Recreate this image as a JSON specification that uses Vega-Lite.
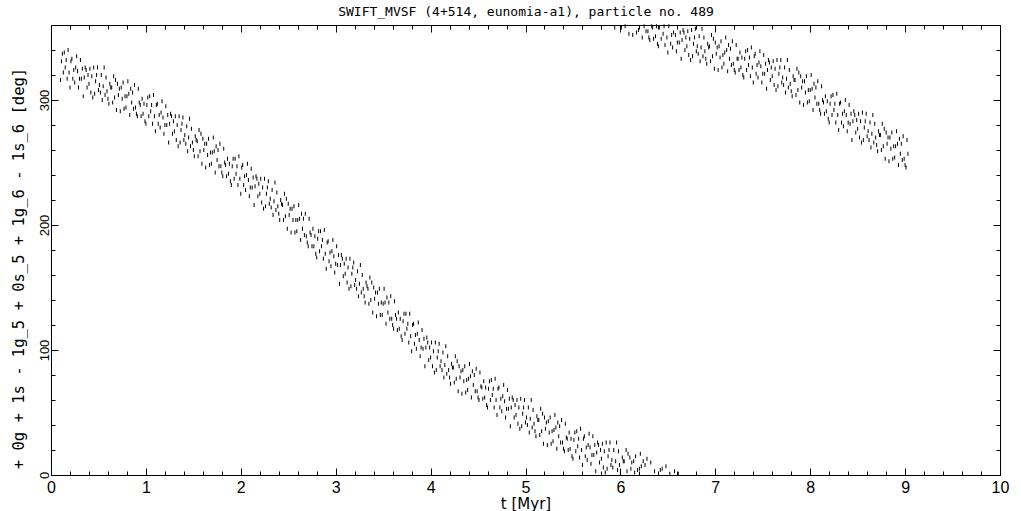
{
"$schema": "https://vega.github.io/schema/vega-lite/v6.json",
"width": 949, "height": 450,
"autosize": {"type": "none"},
"padding": {"left": 51, "top": 25, "right": 21, "bottom": 36},
"background": "white",
"data": {"values": [
{"t":0.10,"v":316},{"t":0.11,"v":331},{"t":0.12,"v":337},
{"t":0.13,"v":322},{"t":0.14,"v":338},{"t":0.15,"v":326},
{"t":0.16,"v":332},{"t":0.17,"v":317},{"t":0.18,"v":340},
{"t":0.19,"v":322},{"t":0.20,"v":310},{"t":0.21,"v":331},
{"t":0.22,"v":333},{"t":0.23,"v":317},{"t":0.24,"v":324},
{"t":0.25,"v":314},{"t":0.26,"v":326},{"t":0.27,"v":335},
{"t":0.28,"v":323},{"t":0.29,"v":310},{"t":0.30,"v":317},
{"t":0.31,"v":332},{"t":0.32,"v":317},{"t":0.33,"v":325},
{"t":0.34,"v":303},{"t":0.35,"v":318},{"t":0.36,"v":326},
{"t":0.37,"v":324},{"t":0.38,"v":310},{"t":0.39,"v":320},
{"t":0.40,"v":313},{"t":0.41,"v":325},{"t":0.42,"v":306},
{"t":0.43,"v":319},{"t":0.44,"v":302},{"t":0.45,"v":326},
{"t":0.46,"v":305},{"t":0.47,"v":315},{"t":0.48,"v":320},
{"t":0.49,"v":326},{"t":0.50,"v":308},{"t":0.51,"v":312},
{"t":0.52,"v":306},{"t":0.53,"v":320},{"t":0.54,"v":300},
{"t":0.55,"v":311},{"t":0.56,"v":326},{"t":0.57,"v":304},
{"t":0.58,"v":318},{"t":0.59,"v":307},{"t":0.60,"v":301},
{"t":0.61,"v":297},{"t":0.62,"v":313},{"t":0.63,"v":310},
{"t":0.64,"v":310},{"t":0.65,"v":298},{"t":0.66,"v":319},
{"t":0.67,"v":302},{"t":0.68,"v":316},{"t":0.69,"v":292},
{"t":0.70,"v":313},{"t":0.71,"v":304},{"t":0.72,"v":309},
{"t":0.73,"v":291},{"t":0.74,"v":310},{"t":0.75,"v":301},
{"t":0.76,"v":314},{"t":0.77,"v":293},{"t":0.78,"v":303},
{"t":0.79,"v":294},{"t":0.80,"v":303},{"t":0.81,"v":315},
{"t":0.82,"v":305},{"t":0.83,"v":288},{"t":0.84,"v":309},
{"t":0.85,"v":298},{"t":0.86,"v":306},{"t":0.87,"v":293},
{"t":0.88,"v":312},{"t":0.89,"v":294},{"t":0.90,"v":289},
{"t":0.91,"v":287},{"t":0.92,"v":309},{"t":0.93,"v":298},
{"t":0.94,"v":296},{"t":0.95,"v":287},{"t":0.96,"v":301},
{"t":0.97,"v":289},{"t":0.98,"v":297},{"t":0.99,"v":283},
{"t":1.00,"v":281},{"t":1.01,"v":296},{"t":1.02,"v":302},
{"t":1.03,"v":287},{"t":1.04,"v":303},{"t":1.05,"v":291},
{"t":1.06,"v":296},{"t":1.07,"v":281},{"t":1.08,"v":304},
{"t":1.09,"v":287},{"t":1.10,"v":275},{"t":1.11,"v":296},
{"t":1.12,"v":297},{"t":1.13,"v":281},{"t":1.14,"v":288},
{"t":1.15,"v":278},{"t":1.16,"v":290},{"t":1.17,"v":299},
{"t":1.18,"v":286},{"t":1.19,"v":273},{"t":1.20,"v":280},
{"t":1.21,"v":295},{"t":1.22,"v":280},{"t":1.23,"v":288},
{"t":1.24,"v":266},{"t":1.25,"v":281},{"t":1.26,"v":289},
{"t":1.27,"v":287},{"t":1.28,"v":273},{"t":1.29,"v":283},
{"t":1.30,"v":275},{"t":1.31,"v":287},{"t":1.32,"v":268},
{"t":1.33,"v":280},{"t":1.34,"v":263},{"t":1.35,"v":287},
{"t":1.36,"v":266},{"t":1.37,"v":276},{"t":1.38,"v":281},
{"t":1.39,"v":286},{"t":1.40,"v":268},{"t":1.41,"v":272},
{"t":1.42,"v":265},{"t":1.43,"v":279},{"t":1.44,"v":259},
{"t":1.45,"v":270},{"t":1.46,"v":285},{"t":1.47,"v":263},
{"t":1.48,"v":277},{"t":1.49,"v":266},{"t":1.50,"v":260},
{"t":1.51,"v":255},{"t":1.52,"v":271},{"t":1.53,"v":268},
{"t":1.54,"v":267},{"t":1.55,"v":255},{"t":1.56,"v":276},
{"t":1.57,"v":259},{"t":1.58,"v":273},{"t":1.59,"v":249},
{"t":1.60,"v":269},{"t":1.61,"v":260},{"t":1.62,"v":265},
{"t":1.63,"v":246},{"t":1.64,"v":265},{"t":1.65,"v":256},
{"t":1.66,"v":269},{"t":1.67,"v":248},{"t":1.68,"v":258},
{"t":1.69,"v":249},{"t":1.70,"v":258},{"t":1.71,"v":270},
{"t":1.72,"v":259},{"t":1.73,"v":242},{"t":1.74,"v":263},
{"t":1.75,"v":252},{"t":1.76,"v":260},{"t":1.77,"v":247},
{"t":1.78,"v":265},{"t":1.79,"v":247},{"t":1.80,"v":242},
{"t":1.81,"v":239},{"t":1.82,"v":261},{"t":1.83,"v":250},
{"t":1.84,"v":248},{"t":1.85,"v":239},{"t":1.86,"v":253},
{"t":1.87,"v":241},{"t":1.88,"v":249},{"t":1.89,"v":235},
{"t":1.90,"v":232},{"t":1.91,"v":247},{"t":1.92,"v":253},
{"t":1.93,"v":237},{"t":1.94,"v":253},{"t":1.95,"v":241},
{"t":1.96,"v":247},{"t":1.97,"v":232},{"t":1.98,"v":255},
{"t":1.99,"v":237},{"t":2.00,"v":225},{"t":2.01,"v":246},
{"t":2.02,"v":248},{"t":2.03,"v":232},{"t":2.04,"v":239},
{"t":2.05,"v":228},{"t":2.06,"v":240},{"t":2.07,"v":249},
{"t":2.08,"v":236},{"t":2.09,"v":223},{"t":2.10,"v":230},
{"t":2.11,"v":245},{"t":2.12,"v":230},{"t":2.13,"v":238},
{"t":2.14,"v":216},{"t":2.15,"v":231},{"t":2.16,"v":239},
{"t":2.17,"v":237},{"t":2.18,"v":223},{"t":2.19,"v":233},
{"t":2.20,"v":225},{"t":2.21,"v":237},{"t":2.22,"v":218},
{"t":2.23,"v":230},{"t":2.24,"v":213},{"t":2.25,"v":237},
{"t":2.26,"v":215},{"t":2.27,"v":225},{"t":2.28,"v":230},
{"t":2.29,"v":235},{"t":2.30,"v":217},{"t":2.31,"v":221},
{"t":2.32,"v":214},{"t":2.33,"v":228},{"t":2.34,"v":208},
{"t":2.35,"v":219},{"t":2.36,"v":234},{"t":2.37,"v":212},
{"t":2.38,"v":226},{"t":2.39,"v":215},{"t":2.40,"v":209},
{"t":2.41,"v":204},{"t":2.42,"v":220},{"t":2.43,"v":217},
{"t":2.44,"v":216},{"t":2.45,"v":204},{"t":2.46,"v":225},
{"t":2.47,"v":207},{"t":2.48,"v":221},{"t":2.49,"v":197},
{"t":2.50,"v":217},{"t":2.51,"v":208},{"t":2.52,"v":213},
{"t":2.53,"v":194},{"t":2.54,"v":213},{"t":2.55,"v":204},
{"t":2.56,"v":215},{"t":2.57,"v":194},{"t":2.58,"v":204},
{"t":2.59,"v":195},{"t":2.60,"v":204},{"t":2.61,"v":216},
{"t":2.62,"v":205},{"t":2.63,"v":188},{"t":2.64,"v":209},
{"t":2.65,"v":197},{"t":2.66,"v":205},{"t":2.67,"v":192},
{"t":2.68,"v":209},{"t":2.69,"v":191},{"t":2.70,"v":186},
{"t":2.71,"v":183},{"t":2.72,"v":205},{"t":2.73,"v":194},
{"t":2.74,"v":192},{"t":2.75,"v":183},{"t":2.76,"v":197},
{"t":2.77,"v":183},{"t":2.78,"v":191},{"t":2.79,"v":177},
{"t":2.80,"v":174},{"t":2.81,"v":189},{"t":2.82,"v":195},
{"t":2.83,"v":179},{"t":2.84,"v":195},{"t":2.85,"v":183},
{"t":2.86,"v":188},{"t":2.87,"v":173},{"t":2.88,"v":196},
{"t":2.89,"v":177},{"t":2.90,"v":165},{"t":2.91,"v":186},
{"t":2.92,"v":187},{"t":2.93,"v":171},{"t":2.94,"v":178},
{"t":2.95,"v":167},{"t":2.96,"v":179},{"t":2.97,"v":188},
{"t":2.98,"v":175},{"t":2.99,"v":162},{"t":3.00,"v":169},
{"t":3.01,"v":183},{"t":3.02,"v":168},{"t":3.03,"v":176},
{"t":3.04,"v":153},{"t":3.05,"v":168},{"t":3.06,"v":176},
{"t":3.07,"v":173},{"t":3.08,"v":159},{"t":3.09,"v":169},
{"t":3.10,"v":161},{"t":3.11,"v":173},{"t":3.12,"v":154},
{"t":3.13,"v":166},{"t":3.14,"v":149},{"t":3.15,"v":173},
{"t":3.16,"v":151},{"t":3.17,"v":161},{"t":3.18,"v":166},
{"t":3.19,"v":170},{"t":3.20,"v":152},{"t":3.21,"v":156},
{"t":3.22,"v":149},{"t":3.23,"v":163},{"t":3.24,"v":143},
{"t":3.25,"v":153},{"t":3.26,"v":168},{"t":3.27,"v":146},
{"t":3.28,"v":160},{"t":3.29,"v":149},{"t":3.30,"v":143},
{"t":3.31,"v":138},{"t":3.32,"v":154},{"t":3.33,"v":151},
{"t":3.34,"v":149},{"t":3.35,"v":137},{"t":3.36,"v":158},
{"t":3.37,"v":140},{"t":3.38,"v":154},{"t":3.39,"v":130},
{"t":3.40,"v":150},{"t":3.41,"v":141},{"t":3.42,"v":146},
{"t":3.43,"v":127},{"t":3.44,"v":146},{"t":3.45,"v":137},
{"t":3.46,"v":149},{"t":3.47,"v":128},{"t":3.48,"v":138},
{"t":3.49,"v":128},{"t":3.50,"v":137},{"t":3.51,"v":149},
{"t":3.52,"v":138},{"t":3.53,"v":121},{"t":3.54,"v":142},
{"t":3.55,"v":130},{"t":3.56,"v":138},{"t":3.57,"v":125},
{"t":3.58,"v":143},{"t":3.59,"v":125},{"t":3.60,"v":120},
{"t":3.61,"v":117},{"t":3.62,"v":139},{"t":3.63,"v":128},
{"t":3.64,"v":125},{"t":3.65,"v":116},{"t":3.66,"v":130},
{"t":3.67,"v":117},{"t":3.68,"v":125},{"t":3.69,"v":111},
{"t":3.70,"v":108},{"t":3.71,"v":123},{"t":3.72,"v":129},
{"t":3.73,"v":113},{"t":3.74,"v":129},{"t":3.75,"v":117},
{"t":3.76,"v":121},{"t":3.77,"v":106},{"t":3.78,"v":129},
{"t":3.79,"v":111},{"t":3.80,"v":99},{"t":3.81,"v":120},
{"t":3.82,"v":121},{"t":3.83,"v":105},{"t":3.84,"v":112},
{"t":3.85,"v":101},{"t":3.86,"v":113},{"t":3.87,"v":122},
{"t":3.88,"v":108},{"t":3.89,"v":95},{"t":3.90,"v":102},
{"t":3.91,"v":116},{"t":3.92,"v":101},{"t":3.93,"v":109},
{"t":3.94,"v":87},{"t":3.95,"v":102},{"t":3.96,"v":110},
{"t":3.97,"v":106},{"t":3.98,"v":92},{"t":3.99,"v":102},
{"t":4.00,"v":94},{"t":4.01,"v":106},{"t":4.02,"v":87},
{"t":4.03,"v":99},{"t":4.04,"v":82},{"t":4.05,"v":106},
{"t":4.06,"v":84},{"t":4.07,"v":94},{"t":4.08,"v":99},
{"t":4.09,"v":105},{"t":4.10,"v":87},{"t":4.11,"v":91},
{"t":4.12,"v":84},{"t":4.13,"v":98},{"t":4.14,"v":78},
{"t":4.15,"v":88},{"t":4.16,"v":103},{"t":4.17,"v":81},
{"t":4.18,"v":95},{"t":4.19,"v":84},{"t":4.20,"v":78},
{"t":4.21,"v":73},{"t":4.22,"v":89},{"t":4.23,"v":86},
{"t":4.24,"v":86},{"t":4.25,"v":74},{"t":4.26,"v":95},
{"t":4.27,"v":77},{"t":4.28,"v":91},{"t":4.29,"v":67},
{"t":4.30,"v":87},{"t":4.31,"v":78},{"t":4.32,"v":83},
{"t":4.33,"v":65},{"t":4.34,"v":84},{"t":4.35,"v":75},
{"t":4.36,"v":87},{"t":4.37,"v":66},{"t":4.38,"v":76},
{"t":4.39,"v":68},{"t":4.40,"v":77},{"t":4.41,"v":89},
{"t":4.42,"v":79},{"t":4.43,"v":62},{"t":4.44,"v":83},
{"t":4.45,"v":72},{"t":4.46,"v":80},{"t":4.47,"v":67},
{"t":4.48,"v":85},{"t":4.49,"v":67},{"t":4.50,"v":62},
{"t":4.51,"v":60},{"t":4.52,"v":82},{"t":4.53,"v":71},
{"t":4.54,"v":70},{"t":4.55,"v":61},{"t":4.56,"v":75},
{"t":4.57,"v":62},{"t":4.58,"v":70},{"t":4.59,"v":56},
{"t":4.60,"v":54},{"t":4.61,"v":69},{"t":4.62,"v":75},
{"t":4.63,"v":60},{"t":4.64,"v":76},{"t":4.65,"v":64},
{"t":4.66,"v":69},{"t":4.67,"v":54},{"t":4.68,"v":77},
{"t":4.69,"v":60},{"t":4.70,"v":48},{"t":4.71,"v":69},
{"t":4.72,"v":70},{"t":4.73,"v":54},{"t":4.74,"v":61},
{"t":4.75,"v":51},{"t":4.76,"v":63},{"t":4.77,"v":72},
{"t":4.78,"v":59},{"t":4.79,"v":46},{"t":4.80,"v":53},
{"t":4.81,"v":68},{"t":4.82,"v":53},{"t":4.83,"v":61},
{"t":4.84,"v":39},{"t":4.85,"v":54},{"t":4.86,"v":62},
{"t":4.87,"v":60},{"t":4.88,"v":46},{"t":4.89,"v":56},
{"t":4.90,"v":48},{"t":4.91,"v":60},{"t":4.92,"v":41},
{"t":4.93,"v":54},{"t":4.94,"v":37},{"t":4.95,"v":61},
{"t":4.96,"v":39},{"t":4.97,"v":49},{"t":4.98,"v":54},
{"t":4.99,"v":60},{"t":5.00,"v":42},{"t":5.01,"v":46},
{"t":5.02,"v":40},{"t":5.03,"v":54},{"t":5.04,"v":34},
{"t":5.05,"v":45},{"t":5.06,"v":60},{"t":5.07,"v":38},
{"t":5.08,"v":52},{"t":5.09,"v":41},{"t":5.10,"v":35},
{"t":5.11,"v":31},{"t":5.12,"v":47},{"t":5.13,"v":44},
{"t":5.14,"v":44},{"t":5.15,"v":32},{"t":5.16,"v":53},
{"t":5.17,"v":35},{"t":5.18,"v":49},{"t":5.19,"v":25},
{"t":5.20,"v":46},{"t":5.21,"v":37},{"t":5.22,"v":42},
{"t":5.23,"v":24},{"t":5.24,"v":43},{"t":5.25,"v":34},
{"t":5.26,"v":46},{"t":5.27,"v":25},{"t":5.28,"v":35},
{"t":5.29,"v":27},{"t":5.30,"v":36},{"t":5.31,"v":48},
{"t":5.32,"v":38},{"t":5.33,"v":21},{"t":5.34,"v":42},
{"t":5.35,"v":31},{"t":5.36,"v":39},{"t":5.37,"v":26},
{"t":5.38,"v":44},{"t":5.39,"v":26},{"t":5.40,"v":21},
{"t":5.41,"v":19},{"t":5.42,"v":41},{"t":5.43,"v":30},
{"t":5.44,"v":29},{"t":5.45,"v":20},{"t":5.46,"v":34},
{"t":5.47,"v":21},{"t":5.48,"v":29},{"t":5.49,"v":15},
{"t":5.50,"v":13},{"t":5.51,"v":28},{"t":5.52,"v":34},
{"t":5.53,"v":19},{"t":5.54,"v":35},{"t":5.55,"v":23},
{"t":5.56,"v":29},{"t":5.57,"v":14},{"t":5.58,"v":37},
{"t":5.59,"v":20},{"t":5.60,"v":8},{"t":5.61,"v":29},
{"t":5.62,"v":31},{"t":5.63,"v":15},{"t":5.64,"v":22},
{"t":5.65,"v":12},{"t":5.66,"v":24},{"t":5.67,"v":33},
{"t":5.68,"v":22},{"t":5.69,"v":9},{"t":5.70,"v":16},
{"t":5.71,"v":31},{"t":5.72,"v":16},{"t":5.73,"v":24},
{"t":5.74,"v":3},{"t":5.75,"v":18},{"t":5.76,"v":26},
{"t":5.77,"v":24},{"t":5.78,"v":10},{"t":5.79,"v":20},
{"t":5.80,"v":13},{"t":5.81,"v":25},{"t":5.82,"v":6},
{"t":5.83,"v":19},{"t":5.84,"v":2},{"t":5.85,"v":26},
{"t":5.86,"v":5},{"t":5.87,"v":15},{"t":5.88,"v":20},
{"t":5.89,"v":26},{"t":5.90,"v":8},{"t":5.91,"v":12},
{"t":5.92,"v":6},{"t":5.93,"v":20},{"t":5.94,"v":358},
{"t":5.95,"v":11},{"t":5.96,"v":26},{"t":5.97,"v":4},
{"t":5.98,"v":19},{"t":5.99,"v":8},{"t":6.00,"v":2},
{"t":6.01,"v":358},{"t":6.02,"v":14},{"t":6.03,"v":11},
{"t":6.04,"v":11},{"t":6.05,"v":359},{"t":6.06,"v":20},
{"t":6.07,"v":3},{"t":6.08,"v":17},{"t":6.09,"v":353},
{"t":6.10,"v":14},{"t":6.11,"v":5},{"t":6.12,"v":10},
{"t":6.13,"v":352},{"t":6.14,"v":11},{"t":6.15,"v":2},
{"t":6.16,"v":15},{"t":6.17,"v":354},{"t":6.18,"v":4},
{"t":6.19,"v":356},{"t":6.20,"v":5},{"t":6.21,"v":17},
{"t":6.22,"v":7},{"t":6.23,"v":350},{"t":6.24,"v":11},
{"t":6.25,"v":359},{"t":6.26,"v":8},{"t":6.27,"v":355},
{"t":6.28,"v":13},{"t":6.29,"v":355},{"t":6.30,"v":350},
{"t":6.31,"v":348},{"t":6.32,"v":10},{"t":6.33,"v":359},
{"t":6.34,"v":358},{"t":6.35,"v":349},{"t":6.36,"v":3},
{"t":6.37,"v":351},{"t":6.38,"v":359},{"t":6.39,"v":345},
{"t":6.40,"v":343},{"t":6.41,"v":358},{"t":6.42,"v":4},
{"t":6.43,"v":349},{"t":6.44,"v":5},{"t":6.45,"v":353},
{"t":6.46,"v":359},{"t":6.47,"v":344},{"t":6.48,"v":7},
{"t":6.49,"v":350},{"t":6.50,"v":338},{"t":6.51,"v":359},
{"t":6.52,"v":1},{"t":6.53,"v":345},{"t":6.54,"v":352},
{"t":6.55,"v":342},{"t":6.56,"v":354},{"t":6.57,"v":3},
{"t":6.58,"v":352},{"t":6.59,"v":339},{"t":6.60,"v":346},
{"t":6.61,"v":1},{"t":6.62,"v":346},{"t":6.63,"v":354},
{"t":6.64,"v":333},{"t":6.65,"v":348},{"t":6.66,"v":356},
{"t":6.67,"v":354},{"t":6.68,"v":340},{"t":6.69,"v":350},
{"t":6.70,"v":343},{"t":6.71,"v":355},{"t":6.72,"v":336},
{"t":6.73,"v":349},{"t":6.74,"v":332},{"t":6.75,"v":356},
{"t":6.76,"v":335},{"t":6.77,"v":345},{"t":6.78,"v":350},
{"t":6.79,"v":357},{"t":6.80,"v":339},{"t":6.81,"v":343},
{"t":6.82,"v":337},{"t":6.83,"v":351},{"t":6.84,"v":331},
{"t":6.85,"v":342},{"t":6.86,"v":357},{"t":6.87,"v":335},
{"t":6.88,"v":350},{"t":6.89,"v":339},{"t":6.90,"v":333},
{"t":6.91,"v":329},{"t":6.92,"v":345},{"t":6.93,"v":342},
{"t":6.94,"v":343},{"t":6.95,"v":331},{"t":6.96,"v":352},
{"t":6.97,"v":335},{"t":6.98,"v":349},{"t":6.99,"v":325},
{"t":7.00,"v":346},{"t":7.01,"v":337},{"t":7.02,"v":342},
{"t":7.03,"v":324},{"t":7.04,"v":343},{"t":7.05,"v":334},
{"t":7.06,"v":347},{"t":7.07,"v":326},{"t":7.08,"v":336},
{"t":7.09,"v":329},{"t":7.10,"v":338},{"t":7.11,"v":350},
{"t":7.12,"v":340},{"t":7.13,"v":323},{"t":7.14,"v":344},
{"t":7.15,"v":333},{"t":7.16,"v":341},{"t":7.17,"v":328},
{"t":7.18,"v":347},{"t":7.19,"v":329},{"t":7.20,"v":324},
{"t":7.21,"v":322},{"t":7.22,"v":344},{"t":7.23,"v":333},
{"t":7.24,"v":333},{"t":7.25,"v":324},{"t":7.26,"v":338},
{"t":7.27,"v":326},{"t":7.28,"v":334},{"t":7.29,"v":320},
{"t":7.30,"v":318},{"t":7.31,"v":333},{"t":7.32,"v":339},
{"t":7.33,"v":324},{"t":7.34,"v":340},{"t":7.35,"v":328},
{"t":7.36,"v":334},{"t":7.37,"v":319},{"t":7.38,"v":342},
{"t":7.39,"v":326},{"t":7.40,"v":314},{"t":7.41,"v":335},
{"t":7.42,"v":337},{"t":7.43,"v":321},{"t":7.44,"v":328},
{"t":7.45,"v":318},{"t":7.46,"v":330},{"t":7.47,"v":339},
{"t":7.48,"v":327},{"t":7.49,"v":314},{"t":7.50,"v":321},
{"t":7.51,"v":336},{"t":7.52,"v":321},{"t":7.53,"v":329},
{"t":7.54,"v":309},{"t":7.55,"v":324},{"t":7.56,"v":332},
{"t":7.57,"v":330},{"t":7.58,"v":316},{"t":7.59,"v":326},
{"t":7.60,"v":319},{"t":7.61,"v":331},{"t":7.62,"v":312},
{"t":7.63,"v":325},{"t":7.64,"v":308},{"t":7.65,"v":332},
{"t":7.66,"v":311},{"t":7.67,"v":321},{"t":7.68,"v":326},
{"t":7.69,"v":332},{"t":7.70,"v":314},{"t":7.71,"v":318},
{"t":7.72,"v":312},{"t":7.73,"v":326},{"t":7.74,"v":306},
{"t":7.75,"v":317},{"t":7.76,"v":332},{"t":7.77,"v":310},
{"t":7.78,"v":324},{"t":7.79,"v":313},{"t":7.80,"v":307},
{"t":7.81,"v":303},{"t":7.82,"v":319},{"t":7.83,"v":316},
{"t":7.84,"v":316},{"t":7.85,"v":304},{"t":7.86,"v":325},
{"t":7.87,"v":308},{"t":7.88,"v":322},{"t":7.89,"v":298},
{"t":7.90,"v":319},{"t":7.91,"v":310},{"t":7.92,"v":315},
{"t":7.93,"v":296},{"t":7.94,"v":315},{"t":7.95,"v":306},
{"t":7.96,"v":319},{"t":7.97,"v":298},{"t":7.98,"v":308},
{"t":7.99,"v":299},{"t":8.00,"v":308},{"t":8.01,"v":320},
{"t":8.02,"v":309},{"t":8.03,"v":292},{"t":8.04,"v":313},
{"t":8.05,"v":302},{"t":8.06,"v":310},{"t":8.07,"v":297},
{"t":8.08,"v":315},{"t":8.09,"v":297},{"t":8.10,"v":292},
{"t":8.11,"v":289},{"t":8.12,"v":311},{"t":8.13,"v":300},
{"t":8.14,"v":298},{"t":8.15,"v":289},{"t":8.16,"v":303},
{"t":8.17,"v":291},{"t":8.18,"v":299},{"t":8.19,"v":285},
{"t":8.20,"v":282},{"t":8.21,"v":297},{"t":8.22,"v":303},
{"t":8.23,"v":288},{"t":8.24,"v":304},{"t":8.25,"v":292},
{"t":8.26,"v":297},{"t":8.27,"v":282},{"t":8.28,"v":305},
{"t":8.29,"v":288},{"t":8.30,"v":276},{"t":8.31,"v":297},
{"t":8.32,"v":298},{"t":8.33,"v":282},{"t":8.34,"v":289},
{"t":8.35,"v":279},{"t":8.36,"v":291},{"t":8.37,"v":300},
{"t":8.38,"v":288},{"t":8.39,"v":275},{"t":8.40,"v":282},
{"t":8.41,"v":296},{"t":8.42,"v":281},{"t":8.43,"v":289},
{"t":8.44,"v":268},{"t":8.45,"v":283},{"t":8.46,"v":291},
{"t":8.47,"v":288},{"t":8.48,"v":274},{"t":8.49,"v":284},
{"t":8.50,"v":277},{"t":8.51,"v":289},{"t":8.52,"v":270},
{"t":8.53,"v":283},{"t":8.54,"v":266},{"t":8.55,"v":290},
{"t":8.56,"v":268},{"t":8.57,"v":278},{"t":8.58,"v":283},
{"t":8.59,"v":289},{"t":8.60,"v":271},{"t":8.61,"v":275},
{"t":8.62,"v":268},{"t":8.63,"v":282},{"t":8.64,"v":262},
{"t":8.65,"v":273},{"t":8.66,"v":288},{"t":8.67,"v":266},
{"t":8.68,"v":281},{"t":8.69,"v":270},{"t":8.70,"v":264},
{"t":8.71,"v":259},{"t":8.72,"v":275},{"t":8.73,"v":272},
{"t":8.74,"v":272},{"t":8.75,"v":260},{"t":8.76,"v":281},
{"t":8.77,"v":263},{"t":8.78,"v":277},{"t":8.79,"v":253},
{"t":8.80,"v":274},{"t":8.81,"v":265},{"t":8.82,"v":270},
{"t":8.83,"v":251},{"t":8.84,"v":270},{"t":8.85,"v":261},
{"t":8.86,"v":274},{"t":8.87,"v":253},{"t":8.88,"v":263},
{"t":8.89,"v":254},{"t":8.90,"v":263},{"t":8.91,"v":275},
{"t":8.92,"v":265},{"t":8.93,"v":248},{"t":8.94,"v":269},
{"t":8.95,"v":257},{"t":8.96,"v":265},{"t":8.97,"v":252},
{"t":8.98,"v":271},{"t":8.99,"v":253},{"t":9.00,"v":248},
{"t":9.01,"v":246},{"t":9.02,"v":268},{"t":9.03,"v":257}
]},
"layer": [
{
"mark": {"type": "tick", "orient": "vertical", "size": 4, "thickness": 1, "color": "black", "opacity": 1},
"encoding": {
"x": {"field": "t", "type": "quantitative", "scale": {"domain": [0, 10], "nice": false, "zero": false},
"axis": {"orient": "bottom", "values": [0,0.2,0.4,0.6,0.8,1,1.2,1.4,1.6,1.8,2,2.2,2.4,2.6,2.8,3,3.2,3.4,3.6,3.8,4,4.2,4.4,4.6,4.8,5,5.2,5.4,5.6,5.8,6,6.2,6.4,6.6,6.8,7,7.2,7.4,7.6,7.8,8,8.2,8.4,8.6,8.8,9,9.2,9.4,9.6,9.8,10],
"tickSize": {"condition": {"test": "datum.value % 1 === 0", "value": -7}, "value": -4},
"labelExpr": "datum.value % 1 === 0 ? format(datum.value, 'd') : ''",
"labelFont": "Liberation Sans", "labelFontSize": 16, "labelBaseline": "alphabetic",
"labelPadding": 24, "labelFlush": false, "labelOverlap": false,
"title": "t [Myr]", "titleFont": "DejaVu Sans", "titleFontSize": 15, "titleY": 33, "titleBaseline": "alphabetic"}},
"y": {"field": "v", "type": "quantitative", "scale": {"domain": [0, 360], "nice": false, "zero": false},
"axis": {"orient": "left", "values": [0,20,40,60,80,100,120,140,160,180,200,220,240,260,280,300,320,340,360],
"tickSize": {"condition": {"test": "datum.value % 100 === 0", "value": -7}, "value": -4},
"labelExpr": "datum.value % 100 === 0 && datum.value < 360 ? format(datum.value, 'd') : ''",
"labelFont": "Liberation Sans", "labelFontSize": 13,
"labelAngle": -90, "labelAlign": "center", "labelBaseline": "alphabetic", "labelPadding": 10, "labelFlush": false, "labelOverlap": false,
"title": "+ 0g + 1s - 1g_5 + 0s_5 + 1g_6 - 1s_6 [deg]", "titleFont": "DejaVu Sans Mono", "titleFontSize": 15.5, "titleAngle": -90, "titleX": -28, "titleY": 243, "titleAlign": "center", "titleBaseline": "alphabetic"}}
}
},
{
"mark": {"type": "tick", "orient": "vertical", "size": 4, "thickness": 1, "opacity": 0},
"encoding": {
"x": {"field": "t", "type": "quantitative", "scale": {"domain": [0, 10], "nice": false, "zero": false},
"axis": {"orient": "top", "values": [0,0.2,0.4,0.6,0.8,1,1.2,1.4,1.6,1.8,2,2.2,2.4,2.6,2.8,3,3.2,3.4,3.6,3.8,4,4.2,4.4,4.6,4.8,5,5.2,5.4,5.6,5.8,6,6.2,6.4,6.6,6.8,7,7.2,7.4,7.6,7.8,8,8.2,8.4,8.6,8.8,9,9.2,9.4,9.6,9.8,10],
"tickSize": {"condition": {"test": "datum.value % 1 === 0", "value": -7}, "value": -4},
"labels": false,
"title": "SWIFT_MVSF (4+514, eunomia-a1), particle no. 489", "titleFont": "DejaVu Sans Mono", "titleFontSize": 13, "titleX": 474.5, "titleY": -10, "titleAlign": "center", "titleBaseline": "alphabetic", "titleAngle": 0}},
"y": {"field": "v", "type": "quantitative", "scale": {"domain": [0, 360], "nice": false, "zero": false},
"axis": {"orient": "right", "values": [0,20,40,60,80,100,120,140,160,180,200,220,240,260,280,300,320,340,360],
"tickSize": {"condition": {"test": "datum.value % 100 === 0", "value": -7}, "value": -4},
"labels": false, "title": null}}
}
}
],
"resolve": {"axis": {"x": "independent", "y": "independent"}},
"config": {
"view": {"stroke": "black", "strokeWidth": 1},
"axis": {"domain": false, "grid": false, "tickColor": "black", "tickWidth": 1, "labelColor": "black", "titleColor": "black", "titleFontWeight": "normal"}
}
}
